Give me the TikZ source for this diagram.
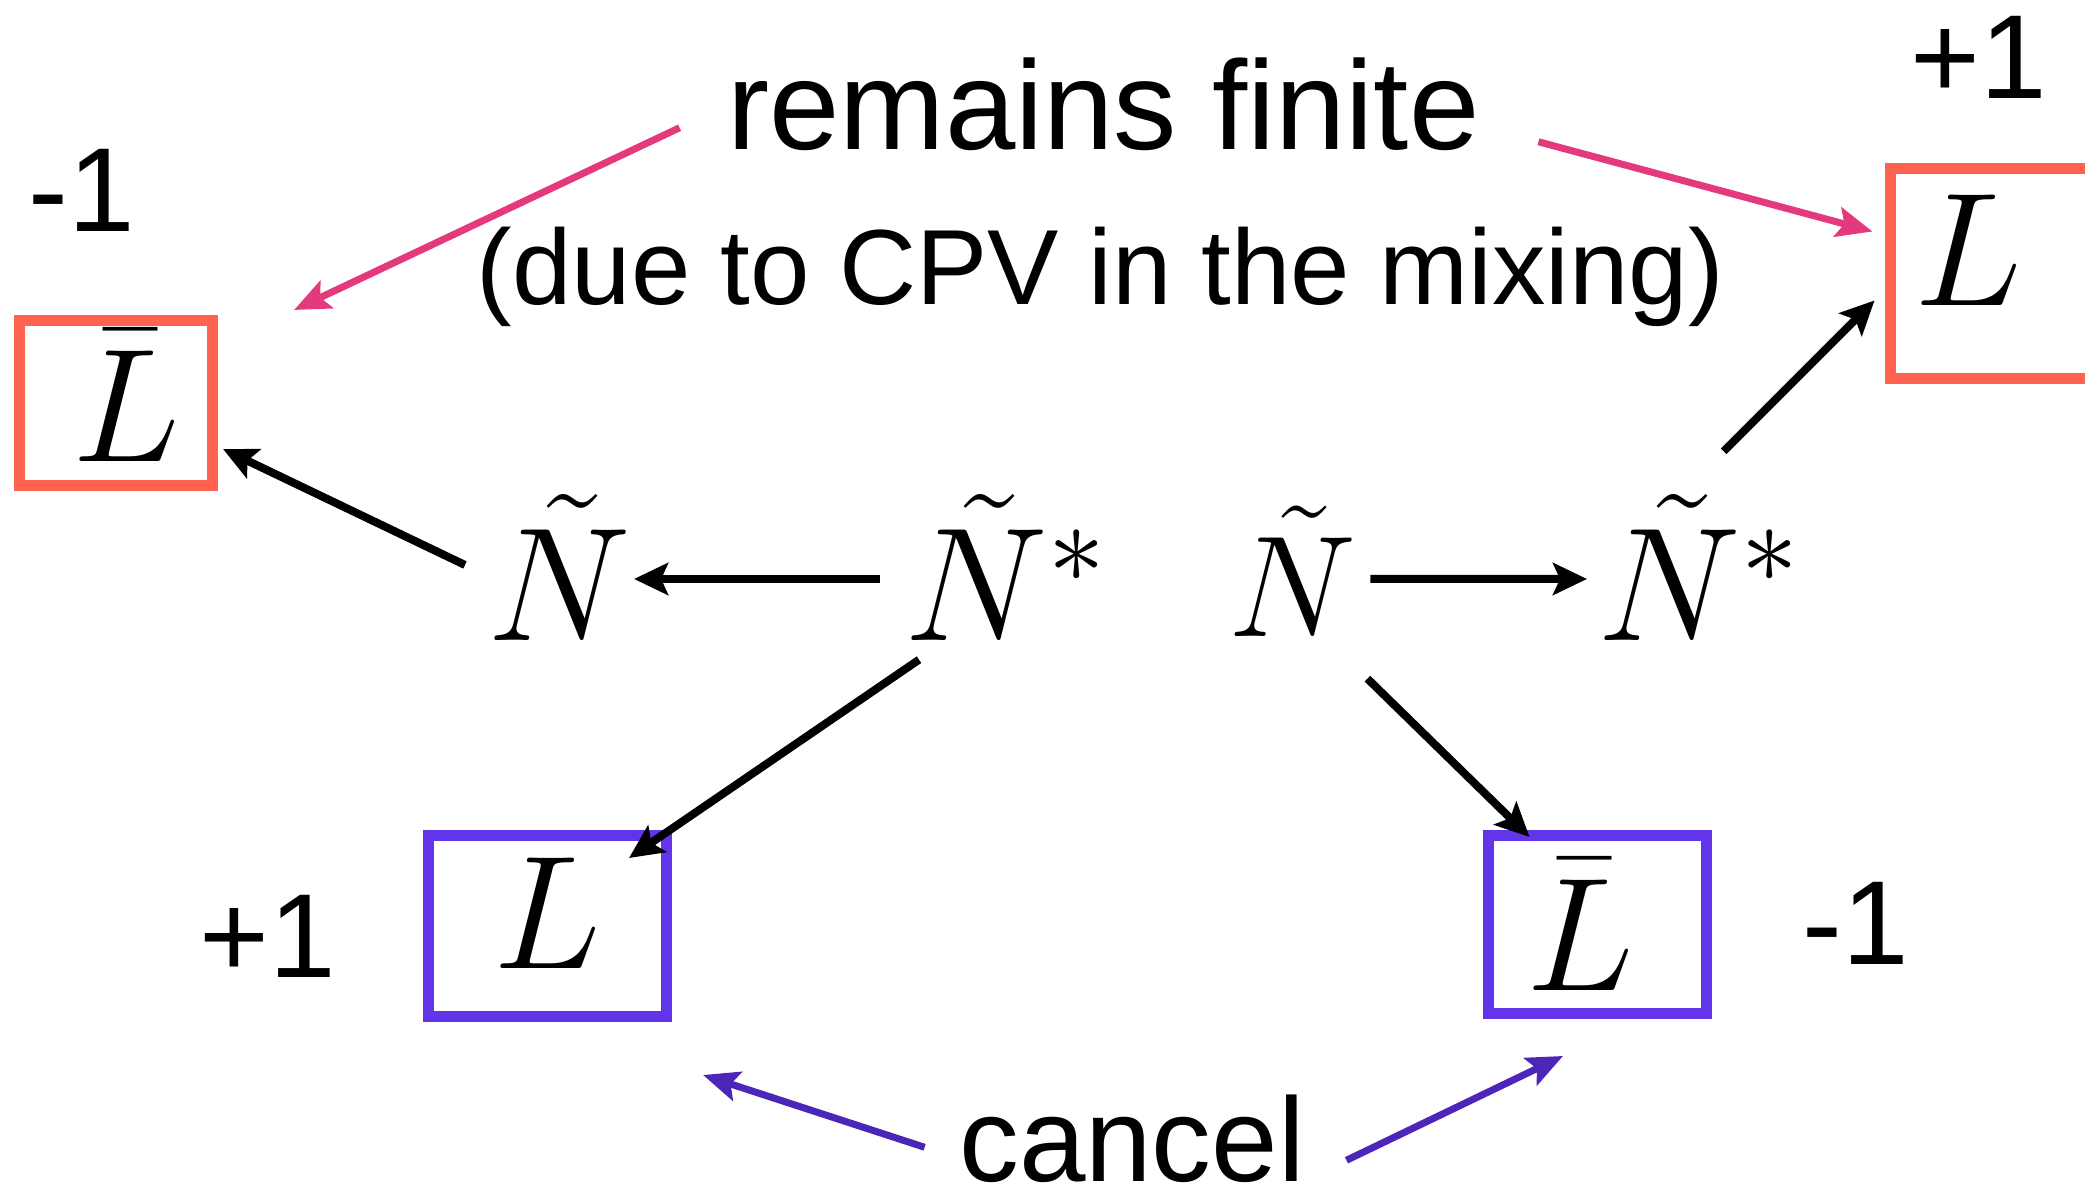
\RequirePackage{fix-cm}
\documentclass[tikz,border=0pt]{standalone}
\usepackage{fontspec}
\setsansfont{Liberation Sans}
\usepackage{tikz}
\usetikzlibrary{positioning,calc,arrows.meta}
\definecolor{boxR}{RGB}{255,98,80}
\definecolor{boxB}{RGB}{98,52,234}
\definecolor{arrP}{RGB}{228,58,125}
\definecolor{arrV}{RGB}{75,38,185}

\begin{document}
\begin{tikzpicture}[x=1cm,y=1cm,
   sn/.style={font=\fontsize{46}{50}\selectfont,inner xsep=1mm,inner ysep=0pt,
              text height=1.5cm,text depth=0.26cm,anchor=base west},
   rb/.style={draw=boxR,line width=1.1mm,inner sep=0pt,font=\fontsize{46}{50}\selectfont},
   bb/.style={draw=boxB,line width=1.1mm,inner sep=0pt,font=\fontsize{46}{50}\selectfont},
   lbl/.style={font=\fontsize{34}{38}\selectfont\sffamily,inner sep=0pt,anchor=base},
   ar/.style={line width=0.8mm,-{Stealth[length=3.4mm,width=3.2mm,inset=0.7mm]}},
   pk/.style={line width=0.7mm,draw=arrP,-{Stealth[length=3.6mm,width=3.0mm,inset=0.7mm]}},
   pv/.style={line width=0.7mm,draw=arrV,-{Stealth[length=3.6mm,width=3.0mm,inset=0.7mm]}}]
\useasboundingbox (0,0) rectangle (20.85,11.87);
%% ---- final states ----
\node[rb,minimum width=1.93cm,minimum height=1.65cm,text depth=0.14cm] (lbarR) at (1.16,7.84) {\hspace*{2mm}$\bar{L}$};
\node[rb,minimum width=2.10cm,minimum height=2.10cm,text depth=0.46cm] (lR) at (19.95,9.135) {$L$\hspace*{5.4mm}};
\node[bb,minimum width=2.38cm,minimum height=1.81cm,text depth=0.26cm] (lB) at (5.475,2.61) {$L$};
\node[bb,minimum width=2.18cm,minimum height=1.78cm] (lbarB) at (15.97,2.625) {$\bar{L}$\hspace*{3.4mm}};
%% ---- sneutrinos ----
\node[sn] (nL) at (4.77,5.46) {$\tilde{N}$};
\node[sn] (nsL) at (8.94,5.46) {$\tilde{N}^*$};
\node[sn,font=\fontsize{41}{45}\selectfont,text height=1.42cm] (nR) at (12.18,5.50) {$\tilde{N}$};
\node[sn] (nsR) at (15.87,5.46) {$\tilde{N}^*$};
%% ---- lepton numbers ----
\node[lbl] (qlbarR) at (0.82,9.55) {-1};
\node[lbl] (qlR) at (19.79,10.88) {+1};
\node[lbl] (qlB) at (2.68,2.09) {+1};
\node[lbl] (qlbarB) at (18.56,2.22) {-1};
%% ---- comments ----
\node[lbl,font=\fontsize{36}{40}\selectfont\sffamily] (rf) at (11.035,10.37) {remains finite};
\node[lbl,font=\fontsize{30.4}{34}\selectfont\sffamily] (cpv) at (11.005,8.82) {(due to CPV in the mixing)};
\node[lbl] (cn) at (11.32,0.05) {cancel};
%% ---- decays ----
\draw[ar] ([xshift=-1.4mm]nsL.west) -- ([xshift=-0.8mm]nL.east);
\draw[ar] ([xshift=0.3mm]nR.east) -- (nsR.west);
\draw[ar] ([shift={(-1.2mm,1.4mm)}]nL.west) -- ([shift={(0.5mm,-4.6mm)}]lbarR.east);
\draw[ar] ([shift={(2.5mm,3.9mm)}]nsR.north) -- ([shift={(-1mm,-2.7mm)}]lR.west);
\draw[ar] ([shift={(2.5mm,0.8mm)}]nsL.south west) -- ([shift={(-4.3mm,-2.8mm)}]lB.north east);
\draw[ar] ([yshift=-1.5mm]nR.south east) -- ([shift={(4.7mm,-0.7mm)}]lbarB.north west);
%% ---- pointers ----
\draw[pk] ([shift={(-4.7mm,-2.3mm)}]rf.west) -- ([shift={(7.6mm,0.5mm)}]lbarR.north east);
\draw[pk] ([shift={(5.8mm,-3.7mm)}]rf.east) -- ([shift={(-1.2mm,4.2mm)}]lR.west);
\draw[pv] ([shift={(-3.4mm,-0.8mm)}]cn.west) -- ([shift={(3.1mm,-5.3mm)}]lB.south east);
\draw[pv] ([shift={(4.1mm,-2.1mm)}]cn.east) -- ([shift={(-3.4mm,-3.7mm)}]lbarB.south);
\end{tikzpicture}
\end{document}
